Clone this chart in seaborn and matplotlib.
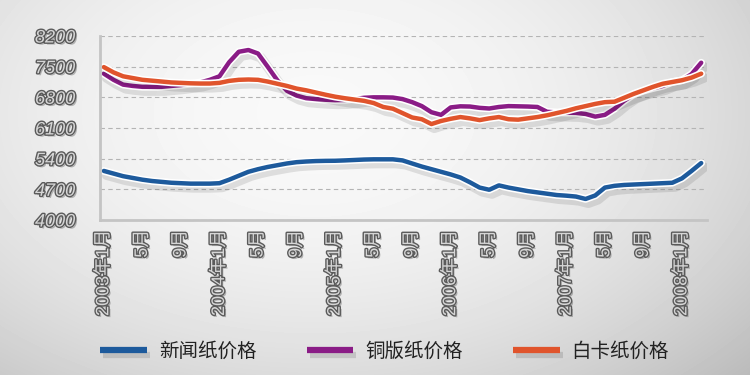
import numpy as np
import pandas as pd
import matplotlib
matplotlib.use("Agg")
import matplotlib.pyplot as plt
import matplotlib.patheffects as pe
from matplotlib.lines import Line2D
import seaborn as sns

sns.set_style("white")
plt.rcParams["font.family"] = ["Liberation Sans", "Noto Sans CJK SC", "DejaVu Sans"]

# ----------------------------------------------------------------------
# DATA (monthly, 2003-01 .. 2008-03)
# ----------------------------------------------------------------------
months = list(range(63))

newsprint = [5120, 5060, 5000, 4960, 4920, 4890, 4870, 4850, 4840, 4830,
             4830, 4830, 4840, 4920, 5010, 5100, 5160, 5210, 5250, 5290,
             5320, 5335, 5345, 5350, 5352, 5360, 5370, 5380, 5385, 5385,
             5385, 5360, 5290, 5220, 5160, 5100, 5040, 4970, 4860, 4740,
             4690, 4790, 4740, 4700, 4660, 4630, 4600, 4570, 4555, 4535,
             4480, 4560, 4740, 4780, 4800, 4810, 4820, 4830, 4840, 4850,
             4950, 5120, 5300]

coated = [7340, 7200, 7090, 7060, 7040, 7040, 7040, 7060, 7080, 7110,
          7140, 7200, 7280, 7600, 7840, 7880, 7800, 7500, 7190, 6950,
          6840, 6780, 6760, 6745, 6735, 6740, 6760, 6790, 6800, 6800,
          6795, 6760, 6690, 6600, 6460, 6400, 6570, 6595, 6590, 6560,
          6545, 6580, 6600, 6595, 6590, 6580, 6470, 6455, 6450, 6445,
          6420, 6360, 6400, 6540, 6720, 6870, 6950, 7010, 7060, 7150,
          7190, 7330, 7590]

whiteboard = [7490, 7370, 7280, 7240, 7200, 7180, 7160, 7140, 7130, 7120,
              7115, 7115, 7130, 7175, 7200, 7207, 7200, 7160, 7110, 7060,
              7000, 6960, 6910, 6860, 6815, 6780, 6750, 6720, 6670, 6580,
              6540, 6440, 6340, 6300, 6190, 6260, 6310, 6350, 6320, 6280,
              6320, 6350, 6300, 6290, 6320, 6350, 6390, 6440, 6490, 6550,
              6600, 6650, 6690, 6700, 6790, 6880, 6960, 7040, 7110, 7150,
              7190, 7250, 7340]

series_names = ["新闻纸价格", "铜版纸价格", "白卡纸价格"]
colors = ["#1d5a9c", "#8a1c86", "#e0542c"]

tick_pos = list(range(0, 61, 4))
tick_labels = ["2003年1月", "5月", "9月", "2004年1月", "5月", "9月",
               "2005年1月", "5月", "9月", "2006年1月", "5月", "9月",
               "2007年1月", "5月", "9月", "2008年1月"]
y_ticks = [4000, 4700, 5400, 6100, 6800, 7500, 8200]

df = pd.concat([
    pd.DataFrame({"month": months, "price": vals, "series": name})
    for name, vals in zip(series_names, [newsprint, coated, whiteboard])
])

# ----------------------------------------------------------------------
# FIGURE
# ----------------------------------------------------------------------
fig = plt.figure(figsize=(7.5, 3.75), dpi=100)

# soft grey background
bg = fig.add_axes([0, 0, 1, 1], zorder=0)
gx, gy = np.meshgrid(np.linspace(0, 1, 750), np.linspace(0, 1, 375))
shade = 0.975 - 0.13 * (((gx - 0.42) / 0.58) ** 2 + ((gy - 0.3) / 0.75) ** 2)
bg.imshow(shade, cmap="gray", vmin=0, vmax=1, extent=[0, 1, 0, 1], aspect="auto")
bg.axis("off")

ax = fig.add_axes([100 / 750, 1 - 220 / 375, 607 / 750, 184 / 375], zorder=1)
ax.patch.set_alpha(0)

sns.lineplot(data=df, x="month", y="price", hue="series", hue_order=series_names,
             palette=dict(zip(series_names, colors)), linewidth=3.2, ax=ax,
             legend=False)

line_fx = [pe.SimpleLineShadow(offset=(2, -3), shadow_color="k", alpha=0.1, linewidth=7),
           pe.Stroke(linewidth=5.5, foreground="white"), pe.Normal()]
for ln in ax.lines:
    ln.set_path_effects(line_fx)
    ln.set_solid_capstyle("round")

ax.set_xlim(-0.4, 62.6)
ax.set_ylim(4000, 8200)
ax.set_yticks(y_ticks)
ax.set_xticks(tick_pos)
ax.set_xticklabels(tick_labels, rotation=90)
ax.set_xlabel("")
ax.set_ylabel("")

ax.yaxis.grid(True, linestyle=(0, (4, 3)), color="#b4b4b4", linewidth=0.8)
ax.set_axisbelow(True)
for s in ["top", "right"]:
    ax.spines[s].set_visible(False)
for s in ["left", "bottom"]:
    ax.spines[s].set_color("#c4c4c4")
    ax.spines[s].set_linewidth(2)

ax.tick_params(axis="x", direction="in", length=6, width=1.5, color="#c0c0c0", pad=7)
ax.tick_params(axis="y", length=0, pad=18)

text_fx = [pe.withSimplePatchShadow(offset=(1.5, -1.5), shadow_rgbFace="#444444", alpha=0.35),
           pe.withStroke(linewidth=2, foreground="#5a5a5a")]
for lbl in ax.get_yticklabels():
    lbl.set_fontsize(13)
    lbl.set_style("italic")
    lbl.set_color("#d6d6d6")
    lbl.set_path_effects(text_fx)
for lbl in ax.get_xticklabels():
    lbl.set_fontsize(13)
    lbl.set_color("#d6d6d6")
    lbl.set_path_effects(text_fx)

# legend along the bottom
handles = [Line2D([], [], color=c, linewidth=4.5, solid_capstyle="butt",
                  path_effects=[pe.SimpleLineShadow(offset=(2, -3), alpha=0.12), pe.Normal()])
           for c in colors]
leg = fig.legend(handles, series_names, loc="center", bbox_to_anchor=(0.513, 0.062),
                 ncol=3, frameon=False, handlelength=2.4, handletextpad=0.6,
                 columnspacing=2.6, prop={"family": ["Noto Sans CJK SC"], "size": 14})
for t in leg.get_texts():
    t.set_color("#222222")

fig.savefig("out.png", dpi=100)
plt.close()
